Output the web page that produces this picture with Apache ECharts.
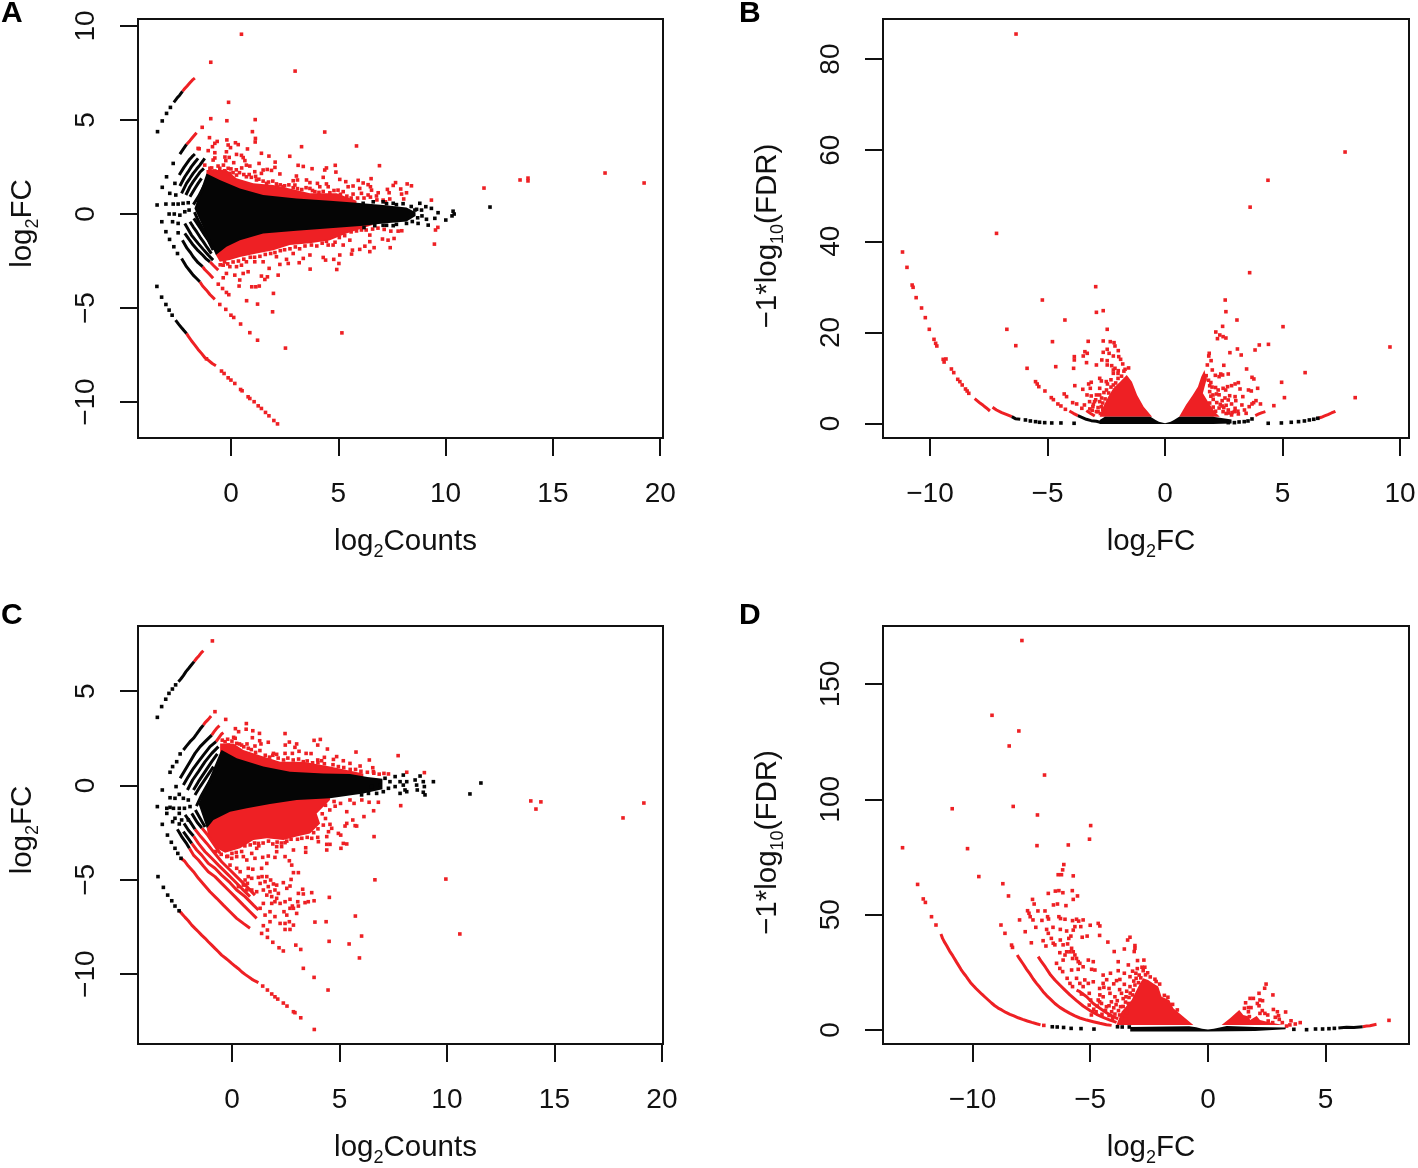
<!DOCTYPE html>
<html><head><meta charset="utf-8">
<style>html,body{margin:0;padding:0;background:#fff}#c{width:1418px;height:1168px}</style>
<script src="https://cdn.jsdelivr.net/npm/echarts@6/dist/echarts.min.js"></script>
</head><body><div id="c"></div>
<script>
// ---------- Tick values ----------
const aXTicks=[0,5,10,15,20], aYTicks=[-10,-5,0,5,10];
const bXTicks=[-10,-5,0,5,10], bYTicks=[0,20,40,60,80];
const cXTicks=[0,5,10,15,20], cYTicks=[-10,-5,0,5];
const dXTicks=[-10,-5,0,5], dYTicks=[0,50,100,150];

// ---------- Panel A: MA plot ----------
const aBlackArea=[[-1.7,.3],[-1.14,2.16],[-.52,1.81],[.42,1.36],[1.5,1.01],[3.05,.83],[4.61,.71],[5.85,.6],[7.09,.48],[8.18,.35],[8.6,.1],[8.6,-.1],[8.18,-.4],[7.09,-.5],[6.16,-.62],[5.23,-.71],[3.05,-.89],[1.5,-1.03],[.42,-1.39],[-.21,-1.74],[-.7,-2.18]];
const aRedUpperArea=[[-1.14,2.34],[-.21,2.34],[.26,1.9],[1.04,1.63],[1.97,1.54],[2.74,1.36],[3.68,1.1],[4.92,1.1],[5.85,.71],[5.85,.3],[-1.14,.3]];
const aRedLowerArea=[[-.7,-2.18],[-.52,-2.54],[-.05,-2.45],[.42,-2.29],[1.19,-2.1],[1.97,-1.92],[2.74,-1.65],[3.68,-1.56],[4.61,-1.39],[5.38,-1.03],[6.6,-.59],[6.6,-.2],[-.7,-.2]];
const aBlackArcs=[
[[-2.66,5.94],[-2.52,6.15],[-2.38,6.33],[-2.26,6.52]],
[[-2.38,3.19],[-2.23,3.44],[-2.07,3.7]],
[[-2.3,-2.36],[-2.18,-2.59],[-2.07,-2.8],[-1.91,-3.03],[-1.76,-3.25],[-1.6,-3.43],[-1.45,-3.6]],
[[-2.41,2.07],[-2.19,2.48],[-1.95,2.87],[-1.81,3.05],[-1.68,3.19]],
[[-2.26,-1.39],[-2.04,-1.83],[-1.88,-2.06],[-1.76,-2.27],[-1.53,-2.59],[-1.32,-2.8]],
[[-2.38,1.49],[-2.15,1.98],[-1.99,2.25],[-1.84,2.52],[-1.68,2.75],[-1.53,2.96]],
[[-2.15,-1.03],[-1.95,-1.35],[-1.76,-1.65],[-1.53,-1.95],[-1.32,-2.18],[-1.14,-2.4],[-.98,-2.54]],
[[-2.3,1.1],[-2.07,1.63],[-1.91,1.9],[-1.76,2.16],[-1.6,2.39],[-1.45,2.6],[-1.22,2.96]],
[[-2.15,-.5],[-1.84,-1.12],[-1.68,-1.35],[-1.53,-1.56],[-1.29,-1.88],[-1.06,-2.18],[-.83,-2.45]],
[[-2.1,1.01],[-1.91,1.45],[-1.76,1.72],[-1.6,1.98],[-1.45,2.22],[-1.26,2.43]],
[[-1.91,-.41],[-1.76,-.68],[-1.6,-.94],[-1.45,-1.21],[-1.29,-1.47],[-1.11,-1.78],[-.91,-2.1]],
[[-1.91,.92],[-1.68,1.36],[-1.53,1.63],[-1.37,1.9]],
[[-1.73,-.23],[-1.42,-.77],[-1.22,-1.12],[-1.06,-1.39],[-.83,-1.92]],
[[-1.75,.5],[-1.5,.95],[-1.25,1.5]],
[[-1.7,.1],[-1.5,-.4],[-1.25,-.9],[-.95,-1.6]],
[[-2.58,-5.64],[-2.43,-5.87],[-2.3,-6.05],[-2.18,-6.21],[-2.07,-6.35]]];
const aRedArcs=[
[[-2.26,6.52],[-2.15,6.67],[-2.04,6.81],[-1.91,6.98],[-1.79,7.13],[-1.68,7.23]],
[[-2.07,3.7],[-1.91,3.9],[-1.76,4.11],[-1.6,4.32]],
[[-1.45,-3.6],[-1.32,-3.83],[-1.14,-4.05],[-.98,-4.28],[-.75,-4.54]],
[[-1.32,-2.8],[-1.22,-2.95],[-1.01,-3.19],[-.83,-3.42]],
[[-.98,-2.54],[-.8,-2.75],[-.59,-2.98]],
[[-2.07,-6.35],[-1.99,-6.49],[-1.84,-6.74],[-1.68,-6.97],[-1.53,-7.2],[-1.37,-7.41],[-1.22,-7.63],[-1.06,-7.77],[-.87,-7.95],[-.7,-8.07]]];
const aBlackPoints=[[-3.42,4.38],[-3.2,4.95],[-3,5.35],[-2.82,5.67],
[-3.45,-3.85],[-3.23,-4.42],[-3.03,-4.81],[-2.88,-5.11],[-2.74,-5.38],
[-3.44,.48],[-3.2,1.42],[-3,1.98],[-2.69,2.69],
[-3.22,-.41],[-3.03,-.94],[-2.86,-1.35],[-2.66,-1.74],[-2.49,-2.1],
[-3.03,.53],[-2.85,1.1],[-2.61,1.63],
[-2.88,0],[-2.72,-.41],[-2.46,-1],
[-2.69,.53],[-2.57,1.01],
[-2.64,0],[-2.46,-.5],
[-2.46,.53],
[-2.38,-.06],
[-2.23,.57],
[-2.15,.12],
[-1.99,.6],
[-1.95,.21],
[8.8,.57],[9.08,.39],[8.88,.21],[9.34,.3],[9.65,.07],[10.01,-.32],[8.72,-.5],[9.11,-.28],[9.5,-.23],[9.19,-.59],[8.57,.21],[10.4,0],[10.35,.15],[10.3,-.1],[12.07,.37],
[6.16,.57],[6.63,.65],[7.09,.65],[7.56,.57],[8.02,.55],[7.71,.5],[7.25,.55],[7.71,-.55],[7.25,-.6],[8.18,-.5],[7.09,-.6],[7.56,-.62],[6.7,-.62],[6.2,-.72],[8.4,.4],[8.45,-.4],[8.65,.25],[8.7,-.2],[8.9,-.1]];
const aRedPoints=[
[-1.14,-7.7],[-.44,-8.35],[-.32,-8.48],[-.13,-8.71],[0,-8.83],[.18,-9.01],[.45,-9.33],[.52,-9.4],[.8,-9.72],[.88,-9.81],[1.08,-9.98],[1.27,-10.2],[1.42,-10.34],[1.61,-10.55],[1.77,-10.73],[2,-10.98],[2.17,-11.16],
[-1.53,3.49],
[-.52,-4.81],[-.24,-5.07],[0,-5.38],[.13,-5.5],[.45,-5.85],[.88,-6.31],[1.24,-6.71],
[-.59,-3.73],[-.39,-3.96],[-.21,-4.17],[-.1,-4.29],
[-.36,-3.39],
[.49,9.56],[-.94,8.07],[2.99,7.6],[-.11,5.94],[-.94,5.07],[-.19,4.96],[1.13,5.02],[-1.34,4.61],[1,4.38],[4.37,4.36],[-1,4.06],[1.14,4.02],[1.13,3.83],[-.19,3.94],[-.64,3.86],[-.75,3.76],[-.86,3.58],[.21,3.79],[.34,3.69],[-.13,3.67],[-.02,3.53],[3.29,3.58],[5.85,3.62],[.77,3.46],[-1.48,3.47],[-.21,3.31],[-1.06,3.37],[-.75,3.26],[.26,3.17],[.49,3.12],[1.42,3.23],[1.77,3.08],[2.74,3.07],[-.28,3.03],[-.08,3.01],[-.75,2.98],[.57,3],[.65,2.84],[2.06,2.76],[-.24,2.84],[-.83,2.87],[.13,2.73],[1.31,2.69],[.72,2.6],[.88,2.55],[3.13,2.59],[3.37,2.53],[4.86,2.59],[6.92,2.57],[2.05,2.48],[1.69,2.37],[1.89,2.32],[1.5,2.34],[4.45,2.45],[4.37,2.34],[3.78,2.41],[4.89,2.23],[1.11,2.25],[1.42,2.16],[2.28,2.13],[3.05,2.02],[4.3,1.95],[6.53,1.88],[5.07,1.84],[5.35,1.72],[5.93,1.79],[6.16,1.65],[6.39,1.56],[7.67,1.67],[7.56,1.52],[8.21,1.6],[8.41,1.5],[7.91,1.33],[8.18,1.13],[7.95,1.06],[7.29,1.31],[7.37,1.13],[6.86,1.13],[6.5,1.45],[6.55,1.27],[6,1.36],[5.69,1.49],[5.46,1.45],[2.9,1.77],[3.1,1.81],[2.98,1.54],[3.52,1.81],[3.68,1.67],[4.03,1.63],[4.45,1.6],[4.53,1.45],[4.14,1.45],[3.68,1.36],[3.91,1.19],[4.61,1.13],[4.99,1.27],[5.23,1.19],[5.69,1.06],[6.08,1.1],[6.39,1.01],[6.78,.96],[7.09,.74],[7.4,.8],[8.05,.8],[9.34,.74],
[-1.22,2.6],[-.98,2.43],[-.75,2.29],[-.52,2.43],[-.13,2.43],[-.05,2.16],[.26,2.07],[.72,1.98],[1.19,1.81],[1.66,1.63],[2.12,1.6],[2.43,1.45],
[-.9,2.45],[-.6,2.55],[-.35,2.6],[-.3,2.3],[0,2.4],[.1,2.2],[.25,2.35],[.4,2.2],[.5,2.45],[.6,2.1],[.85,2.1],[.95,1.95],[1.15,2],[1.3,1.85],[1.5,1.75],[1.75,1.7],[1.95,1.75],[2.15,1.45],[2.3,1.55],[2.5,1.5],[2.7,1.55],[2.9,1.4],[3.1,1.35],[3.3,1.3],[3.5,1.4],[3.8,1.25],[4.1,1.15],[4.3,1.2],[4.8,1.25],[5.1,1.05],[5.4,.95],[5.6,.85],[5.9,.85],[6.2,.85],[6.5,.9],[6.8,.75],[7.2,.65],
[-.36,-2.72],[-.05,-2.8],[.26,-2.8],[-.21,-3.16],[.18,-3.25],[.57,-3.16],[.8,-3.07],[.41,-3.51],[.38,-3.83],[1.42,-3.3],[1.58,-3.48],[1.7,-3.34],[1.78,-2.89],[2.2,-3.25],[.97,-3.87],[1.16,-3.87],[1.32,-3.83],[1.98,-4.22],[.73,-4.61],[1.24,-4.79],[1.94,-5.2],[5.17,-6.32],[2.54,-7.13],[3.69,-2.93],[4.93,-2.95],[5.03,-2.63],[4.79,-2.41],[4.3,-2.31],[4.41,-2.45],[5.07,-2.18],[5.62,-2.13],[5.66,-1.92],[6,-1.88],[6.24,-1.71],[6.47,-2],[6.67,-1.79],[6.47,-1.47],[7.06,-1.33],[7.32,-1.39],[7.6,-1.3],[7.42,-1.79],[7.14,-.82],[7.45,-.91],[7.79,-.91],[7.96,-.89],[9.48,-1.6],[9.53,-.85],[9.64,-.71],[6.47,-1.12],[6.08,-.85],[5.54,-1.39],[5.23,-1.65],[4.76,-1.65],[4.53,-1.65],[3.68,-2.18],[3.37,-2.36],[3.18,-2.59],[2.67,-2.63],[2.28,-2.68],[2.59,-2.41],[2.9,-2.1],[2.12,-2.27],[1.5,-2.54],[1.11,-2.54],[.72,-2.54],[.49,-2.72],
[-.5,-2.7],[-.3,-2.55],[-.15,-2.65],[.1,-2.55],[.35,-2.5],[.6,-2.4],[.9,-2.3],[1.1,-2.3],[1.35,-2.25],[1.6,-2.15],[1.85,-2.1],[2.05,-2.05],[2.3,-1.95],[2.5,-1.9],[2.75,-1.85],[3,-1.75],[3.2,-1.85],[3.45,-1.7],[3.75,-1.65],[4,-1.7],[4.25,-1.55],[4.45,-1.45],[4.85,-1.5],[5.05,-1.25],[5.3,-1.15],[5.6,-.95],[5.85,-.9],[6.3,-.85],[6.6,-.8],[6.85,-.75],
[11.79,1.38],[13.47,1.81],[13.84,1.76],[13.84,1.91],[17.43,2.18],[19.25,1.65]];

// ---------- Panel B: volcano ----------
const bBlackArea=[[-2.78,.78],[-2.56,1.51],[-.62,1.51],[-.4,.78],[-.26,.4],[0,.05],[.24,.4],[.38,.78],[.6,1.51],[2.04,1.51],[2.83,.9],[2.83,0],[2.04,-.1],[-2.78,-.1]];
const bRedLeftArea=[[-2.78,1.51],[-2.63,3.7],[-2.42,5.9],[-2.2,7.73],[-1.91,9.19],[-1.63,10.65],[-1.41,9.19],[-1.19,6.27],[-.91,3.7],[-.55,1.51]];
const bRedRightArea=[[.6,1.51],[.89,4.07],[1.18,6.27],[1.4,8.09],[1.54,10.29],[1.68,11.75],[1.76,9.56],[1.61,6.63],[1.83,4.8],[2.11,2.6],[2.33,1.51]];
const bBlackArcs=[
[[-6.52,1.51],[-6.37,1.07],[-6.16,.93]],
[[-3.71,1.73],[-3.54,1.36],[-3.35,.93],[-3.14,.63],[-2.92,.49],[-2.71,.19]]];
const bRedArcs=[
[[-8.1,5.46],[-7.96,4.87],[-7.86,4.43],[-7.74,4],[-7.6,3.41],[-7.45,2.75]],
[[-7.34,3.56],[-7.17,2.97],[-6.95,2.39],[-6.73,1.95],[-6.52,1.51]],
[[-4.07,2.75],[-3.9,2.24],[-3.71,1.73]],
[[-3.35,2.83],[-3.18,2.24],[-2.99,1.66]],
[[3.84,1.73],[3.99,2.1],[4.13,2.39],[4.27,2.6]],
[[6.5,1.15],[6.65,1.36],[6.79,1.66],[6.93,1.95],[7.08,2.31],[7.25,2.68]]];
const bBlackPoints=[[-5.94,.78],[-5.73,.56],[-5.51,.41],[-5.34,.27],[-5.12,.19],[-4.82,.12],[-4.43,.12],[-3.87,.05],
[6.5,1.15],[6.33,.93],[6.14,.78],[5.93,.56],[5.68,.41],[5.37,.27],[4.95,.12],[4.39,.05],[3.7,1],[3.53,.56],[3.37,.41],[3.15,.34],[2.95,.19],[2.69,.19]];
const bRedPoints=[[-11.17,37.65],[-10.98,34.28],[-10.76,30.4],[-10.72,29.9],[-10.59,27.63],[-10.36,25.36],[-10.2,23.24],[-10.03,20.68],[-9.83,18.48],[-9.76,17.6],[-9.71,17.02],[-9.44,14.09],[-9.32,14.17],[-9.4,13.5],[-9.09,11.97],[-8.99,11.17],[-8.82,9.7],[-8.73,9.19],[-8.63,8.46],[-8.49,7.58],[-8.42,7.14],[-8.35,6.63],
[-5.51,9.19],[-5.44,8.68],[-5.37,8.09],[-5.11,7.14],[-4.84,5.68],[-4.75,5.24],[-4.56,4.29],[-4.43,3.85],[-4.24,3.12],
[-4.29,6.49],[-4.19,5.9],[-3.93,4.58],[-3.76,4.29],[-3.54,3.34],
[-6.34,85.5],[7.66,59.6],[4.38,53.4],[3.62,47.5],
[-7.17,41.74],[-5.22,27.11],[-2.95,30.04],[-2.92,24.41],[-2.63,24.77],[-4.26,22.72],[-6.73,20.68],[-2.46,20.68],[-6.35,17.09],[-4.79,17.97],[-3.27,18.04],[-2.63,18.12],[-2.33,17.97],[-2.17,17.75],[-2.13,17.02],[-2.46,16.29],[-1.99,16],[-5.87,12.12],[-4.65,12.48],[-3.89,12.12],[-3.86,14.68],[-3.86,13.95],[-3.48,14.82],[-3.41,15.77],[-3.31,15.41],[-3.34,13.36],[-2.92,12.85],[-2.63,15.63],[-2.69,13.95],[-2.38,15.41],[-2.2,14.82],[-2.46,13.8],[-2.46,12.85],[-2.27,12.7],[-1.97,14.68],[-1.89,14.09],[-1.8,13.07],[-1.7,11.9],[-2.2,11.75],[-2.13,12.12],[-1.99,11.6],[-2.2,11.02],[-2.78,9.92],[-2.71,9.34],[-3.14,9.05],[-3.25,8.68],[-3.84,8.31],[-3.5,7.51],[-3.18,7.73],[-2.78,7.73],[-2.45,8.68],[-2.2,8.46],[-2.49,7.36],[-3.32,6.27],[-3.14,6.05],[-2.92,6.27],[-2.78,6.27],[-3.21,4.8],[-3,4.8],[-2.78,4.8],[-3.43,4.07],[-3.07,3.7],[-2.92,2.61],[-2.71,3.7],[-2.56,2.6],
[-2.95,5.2],[-3.05,4.2],[-2.85,3.5],[-2.65,4.5],[-2.55,5.4],[-2.6,6.8],[-2.4,6.7],[-2.7,5.6],[-2.3,8],[-2.1,8.9],[-2,9.9],[-1.85,10.4],[-2.85,2.6],[-2.75,2.2],[-2.65,3],[-3.1,2.9],[-3.2,3.2],[-2.5,9.2],[-2.3,9.6],[-2,11],[-1.75,11.5],[-1.55,12.2],
[3.6,33.11],[2.56,27.11],[2.59,24.55],[3.06,22.72],[5.02,21.26],[2.45,21.33],[2.16,20.09],[2.33,19.43],[2.23,18.63],[2.47,19.07],[2.59,18.77],[4.4,17.38],[4.01,17.24],[3.83,16.14],[3.08,16.36],[2.76,15.55],[3.24,15.04],[1.88,15.41],[1.86,14.82],[1.96,13.8],[1.8,12.85],[2.5,12.78],[2.01,11.75],[3.47,11.97],[5.96,11.17],[9.57,16.8],[2.69,10.87],[2.37,10.87],[2.14,10.58],[2.3,10.29],[2.45,10.65],[3.7,10.14],[3.78,9.78],[4.96,9.05],[3.12,8.97],[2.98,8.68],[2.83,8.31],[2.66,8.09],[2.47,7.73],[2.58,7.36],[3.19,7.58],[3.94,7.73],[3.55,7.36],[3.67,7.14],[2.26,7.36],[2.19,6.49],[1.9,7],[2.04,6.27],[2.98,5.9],[3.31,5.9],[5.08,5.68],[8.09,5.68],[3.01,5.02],[2.43,5.02],[2.69,5.17],[3.87,5.02],[3.77,4.58],[3.7,4.29],[4.06,4.29],[3.27,4.07],[2.83,4.29],[2.43,3.85],[4.63,3.92],[3.58,3.7],[3.38,2.97],[2.98,3.34],[2.69,2.97],[2.47,2.6],[3.45,2.24],[3.12,2.1],[2.83,1.88],
[1.95,6],[2.05,5.3],[2.2,4.6],[2.3,3.4],[2.35,4.2],[2.5,3.5],[2.6,4],[2.6,2.2],[2.7,2.3],[2.85,2.4],[2.95,2.6],[3.1,2.7],[1.9,8.3],[1.95,9],[2,8],[1.75,10.5],[1.7,9.8],[1.85,9.5],[2.15,7.9],[2.3,6.3],[2.55,5.6],[2.75,6.1],[1.9,4.5],[2.05,3.6],[2.15,2.7]];

// ---------- Panel C: MA plot ----------
const cBlackArea=[[-1.55,-1],[-.55,1.75],[-.48,1.88],[.22,1.44],[1.46,1],[2.7,.73],[4.25,.64],[5.49,.61],[6.3,.45],[7,.35],[7,-.2],[6.11,-.42],[4.56,-.68],[3.01,-.77],[1.77,-.98],[.69,-1.21],[-.09,-1.39],[-.86,-1.83],[-1.17,-2.27]];
const cRedUpperArea=[[-.55,2.23],[.07,2.23],[.53,1.88],[1.46,1.53],[2.24,1.26],[3.32,1.26],[4.56,1],[6.11,.64],[6.11,.2],[-.55,.2]];
const cRedLowerArea=[[-1.17,-2.27],[-1.1,-2.71],[-.71,-3.33],[-.32,-3.56],[.38,-3.33],[1,-2.89],[1.62,-2.8],[2.39,-2.89],[3.01,-2.71],[3.63,-2.54],[4.1,-2.01],[3.94,-1.48],[4.56,-.77],[4.56,-.5],[-.7,-1]];
const cBlackArcs=[
[[-2.49,5.5],[-2.38,5.64],[-2.26,5.82],[-2.14,6.03],[-2.01,6.21],[-1.89,6.38],[-1.76,6.56]],
[[-2.26,1.88],[-2.1,2.11],[-1.95,2.32],[-1.79,2.5],[-1.64,2.73],[-1.48,2.99],[-1.33,3.2]],
[[-2.41,.38],[-2.18,.82],[-1.95,1.26],[-1.72,1.7],[-1.48,2.06],[-1.25,2.32],[-.94,2.67]],
[[-2.26,.02],[-2.03,.47],[-1.79,.91],[-1.56,1.26],[-1.33,1.61],[-1.02,2.06],[-.74,2.32]],
[[-2.07,-.24],[-1.83,.29],[-1.56,.73],[-1.25,1.26],[-.94,1.7],[-.63,2.06]],
[[-1.79,-.24],[-1.56,.2],[-1.25,.73],[-.94,1.26],[-.68,1.67]],
[[-1.72,-.51],[-1.48,-.06],[-1.17,.47],[-.86,1]],
[[-1.65,-1.1],[-1.45,-.6],[-1.2,-.1],[-.9,.5],[-.65,1.05]],
[[-2.54,-2.32],[-2.34,-2.71],[-2.1,-3.1],[-1.98,-3.33]],
[[-2.26,-2.45],[-2.07,-2.75],[-1.87,-3.07]],
[[-2.23,-2.01],[-2.03,-2.36],[-1.79,-2.68]],
[[-2.18,-1.56],[-1.95,-1.92],[-1.72,-2.32]],
[[-1.87,-1.48],[-1.62,-1.95],[-1.4,-2.25]],
[[-1.7,-1.3],[-1.45,-1.8],[-1.25,-2.2]]];
const cRedArcs=[
[[-1.76,6.56],[-1.64,6.74],[-1.53,6.88],[-1.42,7.04],[-1.33,7.14]],
[[-1.33,3.2],[-1.25,3.33],[-1.1,3.5],[-.97,3.68]],
[[-.94,2.67],[-.83,2.85],[-.71,3.03],[-.58,3.17]],
[[-.74,2.32],[-.63,2.5],[-.48,2.73],[-.4,2.8]],
[[-2.37,-3.86],[-2.21,-4],[-2.03,-4.27],[-1.79,-4.57],[-1.56,-4.92],[-1.33,-5.22],[-1.02,-5.63],[-.71,-5.98],[-.4,-6.34],[-.09,-6.69],[.22,-7.04],[.53,-7.31],[.84,-7.57]],
[[-1.98,-3.33],[-1.79,-3.69],[-1.56,-3.95],[-1.33,-4.27],[-1.1,-4.57],[-.79,-4.83],[-.48,-5.19],[-.17,-5.54],[.14,-5.89],[.53,-6.34],[.84,-6.69],[1.15,-7.04]],
[[-1.87,-3.07],[-1.64,-3.42],[-1.41,-3.69],[-1.1,-4.13],[-.79,-4.39],[-.48,-4.75],[-.09,-5.15],[.22,-5.54],[.61,-5.89],[1,-6.34],[1.23,-6.6]],
[[-1.79,-2.68],[-1.56,-3.07],[-1.25,-3.51],[-.94,-3.86],[-.63,-4.22],[-.24,-4.66],[.07,-5.01],[.45,-5.45],[.84,-5.89]],
[[-1.72,-2.32],[-1.45,-2.71],[-1.17,-3.07],[-.86,-3.51],[-.48,-4.04],[-.09,-4.48],[.3,-4.92],[.69,-5.36],[1.07,-5.81]],
[[-1.4,-2.25],[-1.15,-2.6],[-.85,-3.1],[-.55,-3.6]],
[[-2.46,-6.64],[-2.34,-6.78],[-2.18,-6.99],[-2.03,-7.17],[-1.87,-7.4],[-1.72,-7.57],[-1.56,-7.75],[-1.41,-7.93],[-1.25,-8.1],[-1.1,-8.28],[-.94,-8.46],[-.79,-8.63],[-.63,-8.81],[-.48,-8.99],[-.32,-9.13],[-.17,-9.27],[-.01,-9.43],[.14,-9.57],[.3,-9.71],[.45,-9.87],[.61,-10.01],[.76,-10.13],[.92,-10.26],[1.07,-10.36],[1.23,-10.45]]];
const cBlackPoints=[[-3.47,3.61],[-3.27,4.18],[-3.08,4.57],[-2.93,4.88],[-2.77,5.11],[-2.62,5.33],
[-3.47,-1.12],[-3.24,-.24],[-2.88,.7],[-2.76,1],[-2.57,1.26],[-2.41,1.67],
[-3.03,-1.21],[-2.88,-.65],[-2.6,-.06],
[-2.72,-1.21],[-2.65,-.68],[-2.45,-.47],
[-2.45,-1.21],[-2.26,-.68],
[-2.21,-1.21],[-2.03,-.77],
[-1.95,-1.12],
[-3.24,-2.06],[-3,-2.63],[-2.82,-3.01],[-2.65,-3.33],[-2.52,-3.6],[-2.37,-3.86],
[-2.76,-1.92],[-2.45,-2.04],
[-2.88,-1.16],[-2.65,-1.74],[-2.45,-1.48],[-2.34,-1.83],[-2.03,-1.83],[-3.03,-1.48],
[-3.44,-4.83],[-3.19,-5.4],[-2.99,-5.81],[-2.8,-6.11],[-2.65,-6.39],[-2.46,-6.64],
[9.37,.2],[8.95,-.06],[8.9,.2],[8.59,.02],[8.52,.29],[8.75,.5],[8.62,-.24],[8.9,-.36],[8.98,-.5],[7.97,.55],[7.59,.47],[7.82,.2],[8.13,.2],[7.97,.02],[8.05,-.24],[8.13,-.33],[7.59,-.06],[7.82,-.42],[7.28,-.15],[7.04,-.33],[6.73,-.42],[6.89,.02],[7.12,.38],[7.35,.2],[6.35,-.42],[6.5,-.06],[6.03,-.5],[11.07,-.45],[11.58,.13]];
const cRedPoints=[[-.91,7.66],[-.79,3.91],[-.32,2.32],
[1.38,-7.84],[1.65,-8.05],[1.9,-8.31],[2.19,-8.6],[2.39,-8.77],
[1.46,-7.43],[1.65,-7.66],
[1.31,-6.51],[1.54,-6.87],[1.77,-7.22],
[1.46,-6.25],[1.77,-6.69],[2,-6.95],[2.24,-7.31],[2.47,-7.63],[2.7,-7.63],
[1.43,-10.63],[1.65,-10.84],[1.85,-11.05],[2,-11.2],[2.13,-11.32],[2.39,-11.53],[2.56,-11.69],[2.86,-11.99],[2.93,-12.04],[3.2,-12.31],[3.83,-12.93],
[.76,-4.83],[.61,-5.01],[.92,-4.92],[1.23,-4.87],[1.4,-4.83],[1.62,-4.83],[1.8,-5.01],[1.54,-5.1],[1.31,-5.19],[.53,-5.28],[.3,-5.36],[.72,-5.19],[1.69,-5.36],[1.93,-5.22],[2.08,-5.28],[2.39,-5.15],[2,-5.54],[1.77,-5.63],[2.16,-5.72],[2.55,-5.45],[1.46,-5.54],[1.62,-5.81],[1.85,-5.89],[2.08,-5.98],[1.15,-5.63],[.92,-5.54],[.69,-5.54],[2.7,-6.03],[2.47,-6.16],[2.24,-6.25],[2,-6.16],[1.85,-6.25],[3.09,-5.72],[3.29,-5.5],[3.32,-5.75],[3.71,-5.68],[3.06,-6.16],[2.81,-6.39],[2.86,-6.51],[3.09,-6.39],[3.4,-6.21],[3.55,-6.16],[3.82,-6.11],[4.53,-5.93],[2.42,-6.69],[2.7,-6.51],[2.55,-6.87],[3.01,-6.78],[2.86,-7.4],[2.67,-7.22],[2.47,-7.31],[3.86,-7.24],[4.38,-7.22],[5.74,-6.92],[6.03,-7.98],[5.45,-8.4],[4.52,-8.26],[2.97,-8.46],[3.2,-8.69],[5.93,-9.14],[3.32,-9.69],[3.82,-10.17],[4.47,-10.84],
[6.65,-5],[9.95,-4.96],[10.6,-7.87],
[7.85,-1.07],[6.59,-1.34],[6.14,-1.65],[6.61,-2.71],[6.81,-.89],[6.04,-.77],[5.49,-.77],[5.34,-1.39],[5.73,-2.13],[5.8,-2.15],[5.62,-1.83],[5.34,-2.01],[5.26,-2.15],[4.95,-2.54],[5.06,-2.63],[4.56,-2.06],[4.64,-2.27],[4.49,-2.45],[4.41,-2.71],[4.56,-3.12],[4.41,-3.12],[4.41,-3.42],[5.18,-3.07],[5.34,-3.1],[5.07,-3.33],[3.99,-2.75],[4.02,-2.98],[3.71,-2.8],[3.43,-3.3],[3.43,-3.54],[2.86,-3.42],[2.47,-3.03],[2.08,-3.24],[2.31,-3.24],[2.08,-3.51],[2.47,-3.77],[2.67,-3.99],[2.78,-4.22],[2.86,-4.62],[3.09,-4.62],[2.75,-4.98],[2.7,-5.33],[2,-3.81],[1.69,-3.74],[1.43,-3.81],[1.62,-4.13],[1.38,-4.39],[1.07,-3.86],[.92,-3.6],[1.15,-3.33],[1.23,-3.07],[.69,-3.95],[.53,-3.77],[.22,-3.77],[-.01,-3.86],[-.24,-3.77],[-.09,-4.22],[.22,-4.39],[.38,-4.57],[.76,-4.39],[.97,-4.44],
[-.75,-3.5],[-.5,-3.65],[-.2,-3.75],[0,-3.6],[.2,-3.55],[.45,-3.5],[.6,-3.2],[.85,-3.15],[1.05,-3.05],[1.25,-3.2],[1.45,-3.05],[1.7,-2.95],[1.9,-3.1],[2.1,-3],[2.3,-3.05],[2.55,-2.95],[2.75,-2.85],[3.05,-2.85],[3.25,-2.8],[3.5,-2.75],[3.8,-2.5],[4,-2.3],[4.25,-2.1],[4.35,-1.75],[4.2,-1.5],[4.55,-1.3],[4.8,-1.1],[5.05,-.95],[4.75,-.85],[4.35,-1.05],
[2.47,2.75],[.67,3.28],[.66,2.98],[.16,3.01],[.31,2.85],[.97,2.9],[1.28,2.76],[-.29,3.5],[.08,2.55],[.95,2.53],[1.29,2.37],[1.69,2.29],[1.35,2.2],[2.67,2.3],[2.48,2.14],[3.82,2.39],[4.11,2.44],[3.99,2.14],[3.01,2.2],[2.93,2.02],[4.44,1.93],[3.12,1.81],[5.77,1.77],[2.47,1.7],[2.81,1.7],[2.08,1.65],[3.45,1.7],[3.68,1.69],[7.73,1.58],[6.39,1.35],[4.87,1.53],[4.72,1.38],[4.3,1.49],[3.99,1.35],[5.18,1.31],[5.49,1.17],[5.96,1.03],[6.55,.94],[6.58,.73],[7.07,.64],[7.28,.61],[8.13,.7],[8.95,.68],[1.07,2.09],[.76,1.97],[.45,2.14],[.22,2.23],[-.17,2.14],[1.93,1.7],[3.32,1.26],[4.17,1.31],[5.68,-.95],[6.38,-.89],
[-.45,2.4],[-.2,2.45],[0,2.35],[.15,2.5],[.35,2.2],[.55,2.05],[.7,2.2],[.9,1.9],[1.1,1.75],[1.3,1.85],[1.55,1.6],[1.75,1.5],[1.9,1.6],[2.15,1.45],[2.4,1.35],[2.6,1.45],[2.85,1.35],[3.1,1.4],[3.5,1.3],[3.75,1.2],[4,1.2],[4.3,1.15],[4.7,1.1],[4.95,1],[5.2,.95],[5.5,.85],[5.75,.85],[6,.75],[6.3,.7],[6.6,.65],[6.85,.6],
[13.9,-.82],[14.14,-1.25],[14.37,-.87],[18.19,-1.72],[19.16,-.93]];

// ---------- Panel D: volcano ----------
const dBlackArea=[[-3.3,1.3],[-.8,1.6],[-.5,1.2],[-.25,.5],[0,.2],[.25,.5],[.55,1.2],[.8,1.7],[2,1.3],[3.3,1.1],[3.3,.3],[2,-.4],[0,-.6],[-3.3,-.6]];
const dRedLeftArea=[[-3.88,2.2],[-3.67,7.9],[-3.24,13],[-2.89,20.2],[-2.75,22.4],[-2.54,21.7],[-2.32,20.2],[-2.11,18.8],[-1.97,14.4],[-1.64,13],[-1.47,9.4],[-1.05,5.8],[-.62,2.2]];
const dRedRightArea=[[.58,2.2],[.94,5.05],[1.33,8.7],[1.5,6.5],[1.74,5.8],[1.79,4.3],[2.07,6.1],[2.21,4.3],[2.64,3.2],[3.2,2.2]];
const dRedArcs=[
[[-11.34,41.6],[-11.27,39.7],[-11.2,38.3],[-11.1,36.6],[-10.97,34.2],[-10.84,32.2],[-10.67,29.3],[-10.49,26.3],[-10.39,24.8],[-10.28,23.4],[-10.18,21.9],[-10.08,20.5],[-9.97,19.3],[-9.85,18],[-9.73,16.8],[-9.6,15.5],[-9.47,14.3],[-9.33,13],[-9.19,11.7],[-9.05,10.5],[-8.91,9.5],[-8.76,8.7],[-8.58,7.6],[-8.41,6.8],[-8.24,6.1],[-8.06,5.3],[-7.87,4.6],[-7.67,3.9],[-7.48,3.3],[-7.28,2.7],[-7.11,2.2]],
[[-8.1,32.5],[-8.01,31],[-7.84,28.5],[-7.7,26.3],[-7.56,24.3],[-7.42,22.1],[-7.28,20.2],[-7.14,18.5],[-7,16.6],[-6.85,14.9],[-6.68,13.3],[-6.5,11.5],[-6.29,9.8],[-6.07,8.4],[-5.86,7.2],[-5.65,6.1],[-5.44,5.2],[-5.15,4.3],[-4.87,3.6],[-4.59,2.9],[-4.31,2.3],[-4.09,2]],
[[-7.21,31.8],[-7.07,29.6],[-6.9,27.2],[-6.68,23.8],[-6.5,21.7],[-6.29,19.5],[-6.07,17.3],[-5.86,15.2],[-5.58,12.7],[-5.3,10.4],[-5.01,8.4],[-4.73,6.8],[-4.45,5.5],[-4.16,4.3],[-3.88,3.3]],
[[-5.58,17.3],[-5.44,16.6],[-5.15,14.4],[-4.87,11.5],[-4.59,9.4],[-4.31,7.5],[-4.02,5.8],[-3.81,4.8]],
[[6.57,1.44],[6.74,1.7],[6.88,1.87],[7.02,2.16],[7.16,2.45]]];
const dBlackArcs=[[[5.54,.86],[5.89,1.15],[6.2,1.1],[6.57,1.44]]];
const dBlackPoints=[[-6.61,1.4],[-6.4,1.3],[-6.13,1.1],[-5.81,.7],[-5.39,.6],[-4.84,.4],[-3.84,1.4],[-3.64,1.3],[-3.34,1.3],
[3.65,.3],[4.19,.14],[4.57,.43],[4.87,.43],[5.14,.57],[5.37,.72]];
const dRedPoints=[[-7.9,168.8],[-9.17,136.4],[-8.03,129.6],[-8.44,123.1],[-6.94,110.5],[-10.86,95.9],[-8.27,96.9],[-7.24,93.2],[-4.98,88.6],[-5.03,82.7],[-12.97,79],[-10.21,78.6],[-7.26,79.9],[-5.93,80.2],[-9.73,66.5],[-6.12,71.7],[-6.17,69.4],[-6.36,67.3],[-6.22,67.3],[-5.72,66.8],[-8.71,63.4],[-8.47,58.1],[-6.78,59.2],[-6.48,60.2],[-6.33,60.4],[-6.16,59.5],[-5.76,60.4],[-5.54,58.1],[-5.72,56.6],[-7.45,56.6],[-7.38,54.6],[-6.56,54.2],[-6.39,54.6],[-6.03,53.9],[-7.66,51.7],[-7.6,50.6],[-7.55,49.1],[-7.22,51.6],[-6.92,51.6],[-6.81,49.1],[-6.77,48.1],[-6.33,49.1],[-6.26,48.3],[-6.07,48],[-5.75,47.4],[-5.58,48],[-5.49,47.2],[-5.3,47.7],[-8,47.7],[-7.43,47.7],[-7.05,47.5],[-8.79,45.5],[-8.62,41.9],[-7.76,42.6],[-7.31,44.5],[-6.58,44.5],[-6.85,43.6],[-6.78,41.9],[-6.27,43.6],[-6,42.9],[-5.65,44.8],[-5.4,44.8],[-5,45.4],[-4.66,46.2],[-4.59,45.1],[-4.6,41],[-5.13,40.7],[-5.34,40.2],[-5.72,43.3],[-5.82,40.7],[-5.91,39.7],[-6.65,39.7],[-6.57,37.6],[-6.5,36.9],[-6.27,39],[-6.15,36.9],[-5.96,37.3],[-7,38.7],[-7.5,37.8],[-6.88,36.4],[-4.25,38.1],[-3.41,39],[-3.31,40.2],[-3.1,36.6],[-3.1,35.4],[-3.13,34],[-3.55,35.1],[-3.98,34],[-5.79,35.4],[-5.72,33.9],[-5.65,32.5],[-5.58,31],[-5.51,29.6],[-5.44,28.9],[-5.86,33.9],[-5.75,31],[-6,33.9],[-6.07,32.5],[-6.29,33.5],[-6.15,30.3],[-6.43,28.9],[-6.29,26.7],[-6.17,25.3],[-5.79,26],[-5.51,26.3],[-5.3,27.4],[-5.08,30.3],[-4.87,29.6],[-4.94,26.3],[-4.8,26],[-5.23,21.7],[-5.08,20.2],[-4.87,20.9],[-5.3,18.8],[-5.44,20.2],[-5.58,22.4],[-5.98,22.4],[-5.86,20.2],[-5.75,18.8],[-5.37,15.6],[-5.04,15.9],[-4.98,13],[-5.04,10.8],
[-4.45,23.8],[-4.14,24.6],[-3.81,29.6],[-3.38,28.2],[-2.99,30.1],[-2.72,30.3],[-3.81,25.7],[-3.55,24.6],[-3.74,21.9],[-3.88,21.4],[-3.31,23.1],[-3.06,24.6],[-2.92,23.8],[-2.8,27.2],[-2.68,27.2],[-2.75,25.7],[-2.56,24.8],[-4.45,20.2],[-4.42,18.5],[-4.16,15.9],[-4.59,15.2],[-4.45,14.4],[-4.66,13],[-4.52,11.5],[-4.31,10.1],[-4.09,7.9],[-3.95,14.4],[-3.85,12.7],[-3.67,15.9],[-3.48,14.4],[-3.31,18.8],[-3.1,19.5],[-3.17,17.3],[-3.71,10.1],[-3.38,11.5],
[-12.33,63.1],[-12.09,56.8],[-12,55.3],[-11.74,49.1],[-11.55,45.5],
[-8.34,36.8],[-8.3,35.8],[-6.97,2],
[-4.35,8.5],[-4.2,10.5],[-4.1,12.2],[-4,9.6],[-3.9,11],[-3.8,8.4],[-3.75,6.5],[-3.95,6.9],[-3.6,10.2],[-3.5,12.1],[-3.45,16.8],[-3.35,14.1],[-3.3,16],[-3.2,15.2],[-3.05,22.4],[-2.95,20.5],[-2.85,22.6],[-2.65,23.9],[-2.45,23],[-2.25,22],[-2.05,19.9],[-2.2,21],[-1.85,15],[-1.7,14.2],[-1.5,11.1],[-1.3,8.7],[-4.75,7.9],[-4.5,6.8],[-4.2,6.3],[-4.05,4.9],[-3.75,3.4],[-3.65,5],[-3.5,4.6],[-3.45,7.5],[-3.6,13.6],[-3.2,25.5],[-3,26.6],[-3.15,21.2],[-4.6,12.2],[-4.85,9],[-4.7,10.4],[-4.95,6.5],[-4.6,18],[-4.3,21.8],[-4.2,18],[-4,20],[-3.75,17.5],[-3.55,19.8],
[2.47,19.9],[2.41,18.1],[2.76,15.2],[2.17,15.9],[1.79,13.7],[1.93,13.7],[2.21,13],[2.32,12.7],[1.6,11.8],[2.1,11.5],[2.17,10.5],[1.55,9.4],[1.72,9.7],[1.83,9.7],[1.72,7.9],[1.76,5.8],[2.31,8.4],[2.42,7.2],[2.54,6.5],[2.78,8.9],[2.95,7.9],[3,6.2],[3.3,7.8],[2.86,5.5],[3.03,4.6],[2.56,3.9],[2.75,3.2],[3.16,3.2],[3.53,4],[3.92,3.2],[3.71,2.6],[3.48,2.2],[3.34,1.7],[2.21,7.2],
[7.69,4.18]];

// ---------- Rendering ----------
const RED='#ee2024', BLACK='#050505', FONT='"Liberation Sans", Arial, sans-serif';
const grids=[
 {left:138,top:19,width:525,height:419},{left:883,top:19,width:526,height:419},
 {left:138,top:626,width:525,height:418},{left:883,top:626,width:526,height:418}];
const tickText=v=>String(v).replace('-','\u2212');
const nameRich={a:{fontSize:29.5,fontFamily:FONT,color:'#111'},s:{fontSize:18,fontFamily:FONT,color:'#111',padding:[20,0,0,0],verticalAlign:'bottom'}};
function axis(gridIndex,min,max,ticks,name,nameGap,isY,pad){
 return {type:'value',gridIndex,min,max,name,nameLocation:'middle',nameGap,nameRotate:isY?90:0,
  nameTextStyle:{rich:nameRich,padding:pad},splitLine:{show:false},minorTick:{show:false},
  axisLine:{show:false,onZero:false},
  axisTick:{show:true,inside:false,length:18,lineStyle:{color:'#111',width:2},customValues:ticks},
  axisLabel:{show:true,rotate:isY?90:0,margin:isY?52:42,fontSize:28,fontFamily:FONT,color:'#111',hideOverlap:false,
   customValues:ticks,formatter:tickText,verticalAlign:isY?'middle':'top'}};
}
const FC='{a|log}{s|2}{a|FC}', CT='{a|log}{s|2}{a|Counts}', FDR='{a|\u22121*log}{s|10}{a|(FDR)}';
const LP=[0,0,0,10], RP=[0,15,0,0];
const xAxes=[axis(0,-4.33,20.13,aXTicks,CT,85,false,LP),axis(1,-12,10.38,bXTicks,FC,85,false,LP),axis(2,-4.37,20.05,cXTicks,CT,85,false,LP),axis(3,-13.8,8.54,dXTicks,FC,85,false,LP)];
const yAxes=[axis(0,-11.91,10.37,aYTicks,FC,96,true,LP),axis(1,-3.18,88.8,bYTicks,FDR,96,true,RP),axis(2,-13.7,8.45,cYTicks,FC,96,true,LP),axis(3,-6.07,175.1,dYTicks,FDR,96,true,RP)];
function area(i,data,color,z){
 return {type:'custom',xAxisIndex:i,yAxisIndex:i,data,z,silent:true,animation:false,clip:true,
  encode:{x:0,y:1},
  renderItem(params,api){
   if(params.dataIndex!==0) return null;
   return {type:'polygon',shape:{points:data.map(p=>api.coord(p))},style:{fill:color}};
  }};
}
function dots(i,data,color,z){
 return {type:'scatter',xAxisIndex:i,yAxisIndex:i,data,z,silent:true,animation:false,symbol:'rect',symbolSize:3.6,itemStyle:{color,opacity:1}};
}
function arcs(i,list,color,z){
 return list.map(data=>({type:'line',xAxisIndex:i,yAxisIndex:i,data,z,silent:true,animation:false,showSymbol:false,symbol:'none',lineStyle:{color,width:3,cap:'butt'}}));
}
const series=[
 area(0,aRedUpperArea,RED,1),area(0,aRedLowerArea,RED,1),dots(0,aRedPoints,RED,2),...arcs(0,aRedArcs,RED,2),area(0,aBlackArea,BLACK,3),dots(0,aBlackPoints,BLACK,4),...arcs(0,aBlackArcs,BLACK,4),
 area(1,bRedLeftArea,RED,1),area(1,bRedRightArea,RED,1),dots(1,bRedPoints,RED,2),...arcs(1,bRedArcs,RED,2),area(1,bBlackArea,BLACK,3),dots(1,bBlackPoints,BLACK,4),...arcs(1,bBlackArcs,BLACK,4),
 area(2,cRedUpperArea,RED,1),area(2,cRedLowerArea,RED,1),dots(2,cRedPoints,RED,2),...arcs(2,cRedArcs,RED,2),area(2,cBlackArea,BLACK,3),dots(2,cBlackPoints,BLACK,4),...arcs(2,cBlackArcs,BLACK,4),
 area(3,dRedLeftArea,RED,1),area(3,dRedRightArea,RED,1),dots(3,dRedPoints,RED,2),...arcs(3,dRedArcs,RED,2),area(3,dBlackArea,BLACK,3),dots(3,dBlackPoints,BLACK,4),...arcs(3,dBlackArcs,BLACK,4)];
const letter=(t,x,y)=>({type:'text',left:x,top:y,style:{text:t,fontSize:30,fontWeight:'bold',fontFamily:FONT,fill:'#000'}});
const chart=echarts.init(document.getElementById('c'),null,{renderer:'canvas'});
chart.setOption({backgroundColor:'#fff',animation:false,
 grid:grids.map(g=>({...g,show:true,borderColor:'#111',borderWidth:2,backgroundColor:'transparent',containLabel:false,outerBoundsMode:'none'})),
 xAxis:xAxes,yAxis:yAxes,series,
 graphic:[letter('A',1,-1),letter('B',739,-1),letter('C',1,601),letter('D',739,601)]});
</script></body></html>
